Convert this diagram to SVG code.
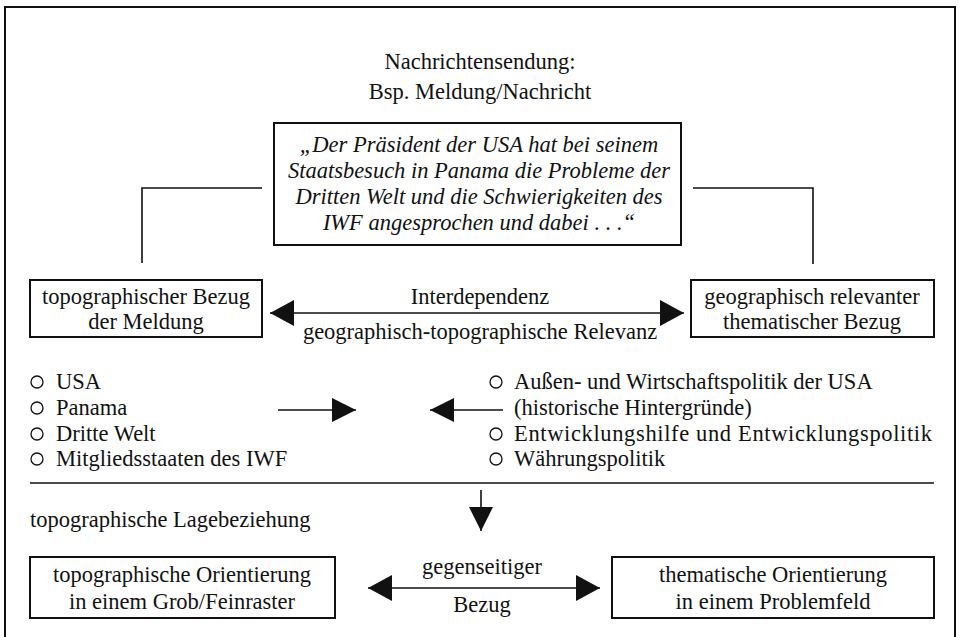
<svg xmlns="http://www.w3.org/2000/svg" width="960" height="637" viewBox="0 0 960 637">
<style>
.t{font-family:"Liberation Serif","Times New Roman",serif;font-size:22.5px;fill:#111}
.c{text-anchor:middle}
.i{font-style:italic}
.box{fill:none;stroke:#111;stroke-width:2}
.ln{fill:none;stroke:#111;stroke-width:1.6}
.bul{fill:none;stroke:#111;stroke-width:1.3}
</style>
<defs>
<marker id="ah" markerUnits="userSpaceOnUse" markerWidth="24" markerHeight="26" refX="24" refY="13" orient="auto-start-reverse"><path d="M0,0 L24,13 L0,26 Z" fill="#111"/></marker>
<marker id="as" markerUnits="userSpaceOnUse" markerWidth="24" markerHeight="24" refX="24" refY="12" orient="auto-start-reverse"><path d="M0,0 L24,12 L0,24 Z" fill="#111"/></marker>
</defs>
<rect x="5" y="7" width="950" height="700" class="box"/>
<g id="title" font-family="Liberation Serif, serif">
<text class="t c" x="480" y="69">Nachrichtensendung:</text>
<text class="t c" x="480" y="99">Bsp. Meldung/Nachricht</text>
</g>
<g id="quote" font-family="Liberation Serif, serif">
<rect x="274" y="123" width="407" height="122" class="box"/>
<text class="t c i" x="479" y="152">„Der Präsident der USA hat bei seinem</text>
<text class="t c i" x="479" y="178">Staatsbesuch in Panama die Probleme der</text>
<text class="t c i" x="479" y="204">Dritten Welt und die Schwierigkeiten des</text>
<text class="t c i" x="479" y="230">IWF angesprochen und dabei . . .“</text>
</g>
<g id="topo">
<rect x="30" y="280" width="232" height="57" class="box"/>
<text class="t c" x="146" y="304">topographischer Bezug</text>
<text class="t c" x="146" y="329">der Meldung</text>
</g>
<g id="geo">
<rect x="691" y="280" width="243" height="57" class="box"/>
<text class="t c" x="812" y="304">geographisch relevanter</text>
<text class="t c" x="812" y="329">thematischer Bezug</text>
</g>
<g id="interdependenz">
<text class="t c" x="480" y="304">Interdependenz</text>
<text class="t c" x="480" y="339">geographisch-topographische Relevanz</text>
</g>
<g id="list-left">
<circle cx="37" cy="382" r="6" class="bul"/><text class="t" x="56" y="389">USA</text>
<circle cx="37" cy="408" r="6" class="bul"/><text class="t" x="56" y="415">Panama</text>
<circle cx="37" cy="434" r="6" class="bul"/><text class="t" x="56" y="441">Dritte Welt</text>
<circle cx="37" cy="459" r="6" class="bul"/><text class="t" x="56" y="466">Mitgliedsstaaten des IWF</text>
</g>
<g id="list-right">
<circle cx="496" cy="382" r="6" class="bul"/><text class="t" x="514" y="389">Außen- und Wirtschaftspolitik der USA</text>
<text class="t" x="514" y="415">(historische Hintergründe)</text>
<circle cx="496" cy="434" r="6" class="bul"/><text class="t" x="514" y="441" textLength="418" lengthAdjust="spacing">Entwicklungshilfe und Entwicklungspolitik</text>
<circle cx="496" cy="459" r="6" class="bul"/><text class="t" x="514" y="466">Währungspolitik</text>
</g>
<g id="lage">
<text class="t" x="30" y="527">topographische Lagebeziehung</text>
</g>
<g id="topo-orient">
<rect x="30" y="557" width="305" height="61" class="box"/>
<text class="t c" x="182" y="582">topographische Orientierung</text>
<text class="t c" x="182" y="609">in einem Grob/Feinraster</text>
</g>
<g id="them-orient">
<rect x="612" y="557" width="322" height="61" class="box"/>
<text class="t c" x="773" y="582">thematische Orientierung</text>
<text class="t c" x="773" y="609">in einem Problemfeld</text>
</g>
<g id="bezug">
<text class="t c" x="482" y="574">gegenseitiger</text>
<text class="t c" x="482" y="612">Bezug</text>
</g>
<g id="connectors">
<polyline points="142,263 142,188 262,188" class="ln"/>
<polyline points="693,188 813,188 813,264" class="ln"/>
<line x1="270" y1="313" x2="684" y2="313" class="ln" marker-start="url(#ah)" marker-end="url(#ah)"/>
<line x1="278" y1="410" x2="356" y2="410" class="ln" marker-end="url(#as)"/>
<line x1="503" y1="410" x2="430" y2="410" class="ln" marker-end="url(#as)"/>
<line x1="30" y1="483" x2="934" y2="483" class="ln"/>
<line x1="481" y1="490" x2="481" y2="531" class="ln" marker-end="url(#as)"/>
<line x1="368" y1="588" x2="600" y2="588" class="ln" marker-start="url(#ah)" marker-end="url(#ah)"/>
</g>
</svg>
